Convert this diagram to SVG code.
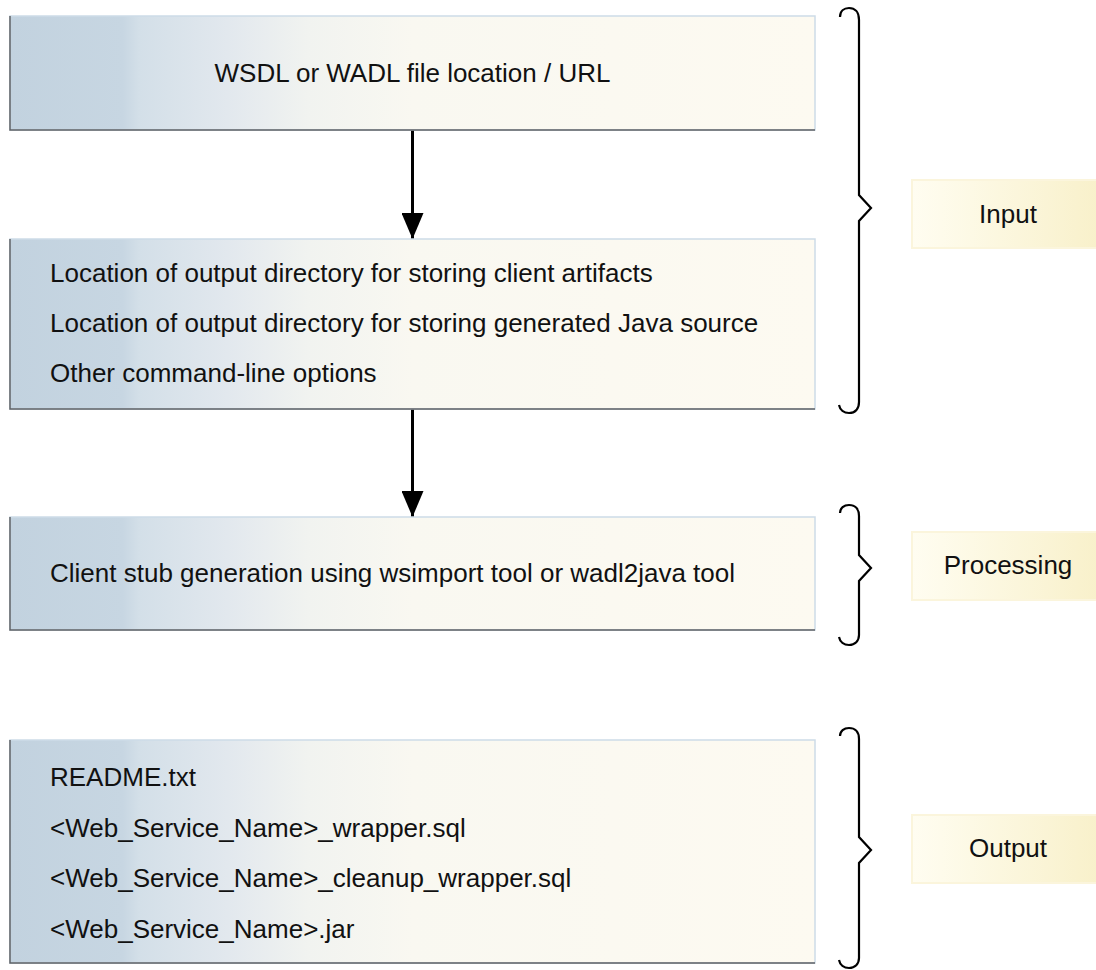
<svg xmlns="http://www.w3.org/2000/svg" width="1096" height="970" viewBox="0 0 1096 970">
<style>
text{font-family:"Liberation Sans",Arial,Helvetica,sans-serif;font-size:26px;fill:#111}
.box{fill:url(#boxg);stroke:#cddbe7;stroke-width:1.5}
.edge{stroke:#5f6266;stroke-width:1.5;fill:none}
.lab{fill:url(#labg);stroke:#fbf5dc;stroke-width:2}
.brace{fill:none;stroke:#000;stroke-width:2.2;stroke-linejoin:miter}
.conn{stroke:#000;stroke-width:3;fill:none}
</style>
<defs>
<linearGradient id="boxg" x1="0" y1="0" x2="1" y2="0">
<stop offset="0" stop-color="#c2d2df"/>
<stop offset="0.14" stop-color="#c7d6e2"/>
<stop offset="0.16" stop-color="#d3dfe8"/>
<stop offset="0.27" stop-color="#e2e8ee"/>
<stop offset="0.37" stop-color="#f1f3f0"/>
<stop offset="0.5" stop-color="#f9f8f1"/>
<stop offset="1" stop-color="#fdfaf1"/>
</linearGradient>
<linearGradient id="labg" x1="0" y1="0" x2="1" y2="0">
<stop offset="0" stop-color="#fffdf1"/>
<stop offset="1" stop-color="#f8f0c9"/>
</linearGradient>
<marker id="arr" viewBox="0 0 26 22" refX="26" refY="11" markerWidth="26" markerHeight="22" markerUnits="userSpaceOnUse" orient="auto">
<path d="M0,0 L26,11 L0,22 Z" fill="#000"/>
</marker>
</defs>

<g id="connectors">
<path class="conn" d="M412.5,130 V239" marker-end="url(#arr)"/>
<path class="conn" d="M412.5,409 V517" marker-end="url(#arr)"/>
</g>

<g id="node-wsdl">
<rect class="box" x="10" y="16" width="805" height="114"/>
<path class="edge" d="M10,16 V130 H815"/>
<text x="412.5" y="82" text-anchor="middle">WSDL or WADL file location / URL</text>
</g>

<g id="node-options">
<rect class="box" x="10" y="239" width="805" height="170"/>
<path class="edge" d="M10,239 V409 H815"/>
<text x="50" y="282">Location of output directory for storing client artifacts</text>
<text x="50" y="332">Location of output directory for storing generated Java source</text>
<text x="50" y="382">Other command-line options</text>
</g>

<g id="node-processing">
<rect class="box" x="10" y="517" width="805" height="113"/>
<path class="edge" d="M10,517 V630 H815"/>
<text x="50" y="582">Client stub generation using wsimport tool or wadl2java tool</text>
</g>

<g id="node-output">
<rect class="box" x="10" y="740" width="805" height="223"/>
<path class="edge" d="M10,740 V963 H815"/>
<text x="50" y="786">README.txt</text>
<text x="50" y="837">&lt;Web_Service_Name&gt;_wrapper.sql</text>
<text x="50" y="887">&lt;Web_Service_Name&gt;_cleanup_wrapper.sql</text>
<text x="50" y="938">&lt;Web_Service_Name&gt;.jar</text>
</g>

<g id="brace-input">
<path class="brace" d="M840,17 C840,11 844,8 849,8 C855,8 859,12 859,20 V195 L871,208 L859,221 V402 C859,409 855,413 849,413 C844,413 840,410 839,405"/>
</g>
<g id="label-input">
<rect class="lab" x="912" y="180" width="194" height="68"/>
<text x="1008" y="223" text-anchor="middle">Input</text>
</g>

<g id="brace-processing">
<path class="brace" d="M840,513 C840,508 844,505 849,505 C855,505 859,509 859,516 V555 L871,568 L859,581 V635 C859,641 855,645 849,645 C844,645 840,642 839,637"/>
</g>
<g id="label-processing">
<rect class="lab" x="912" y="532" width="194" height="68"/>
<text x="1008" y="574" text-anchor="middle">Processing</text>
</g>

<g id="brace-output">
<path class="brace" d="M840,736 C840,731 844,728 849,728 C855,728 859,732 859,739 V837 L871,850 L859,863 V958 C859,964 855,968 849,968 C844,968 840,965 839,960"/>
</g>
<g id="label-output">
<rect class="lab" x="912" y="815" width="194" height="68"/>
<text x="1008" y="857" text-anchor="middle">Output</text>
</g>
</svg>
